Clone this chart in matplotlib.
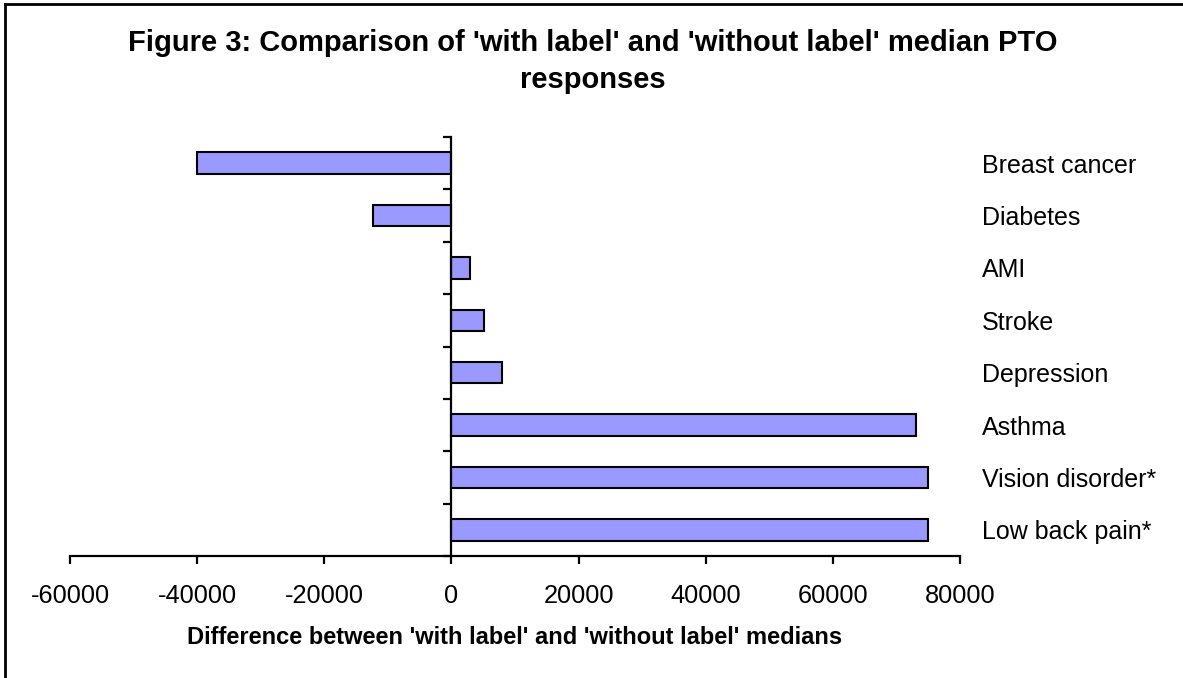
# Figure 3: 'with label' minus 'without label' median PTO responses
import numpy as np
import matplotlib
matplotlib.use('Agg')
import matplotlib.pyplot as plt
from matplotlib.ticker import FixedLocator
from matplotlib.lines import Line2D

plt.rcParams['font.family'] = ['Liberation Sans', 'DejaVu Sans']

# data, top to bottom as in the chart
conditions = ['Breast cancer', 'Diabetes', 'AMI', 'Stroke', 'Depression',
              'Asthma', 'Vision disorder*', 'Low back pain*']
differences = [-40000, -12300, 3000, 5200, 8000, 73000, 75000, 75000]
x_ticks = [-60000, -40000, -20000, 0, 20000, 40000, 60000, 80000]

fig = plt.figure(figsize=(11.83, 6.78), dpi=100)
ax = fig.add_axes([70 / 1183, 1 - 556 / 678, 890 / 1183, 419 / 678])

y = np.arange(len(conditions))
ax.barh(y, differences, height=0.41, color='#9999FF', edgecolor='black',
        linewidth=1.5, zorder=2)

ax.set_xlim(-60000, 80000)
ax.set_ylim(len(conditions) - 0.5, -0.5)
ax.set_xticks(x_ticks)
ax.set_xticklabels([str(t) for t in x_ticks])

# y axis sits at zero, ticks between categories, names on the right
ax.spines['left'].set_position(('data', 0))
ax.spines['top'].set_visible(False)
ax.spines['right'].set_visible(False)
for s in ['left', 'bottom']:
    ax.spines[s].set_linewidth(1.6)
ax.yaxis.set_major_locator(FixedLocator(np.arange(-0.5, len(conditions), 1.0)))
ax.yaxis.set_minor_locator(FixedLocator(y))
ax.yaxis.set_minor_formatter(plt.FixedFormatter(conditions))
ax.tick_params(axis='y', which='major', direction='out', length=6, width=1.6,
               labelleft=False)
ax.tick_params(axis='y', which='minor', left=False, right=False,
               labelleft=False, labelright=True, labelsize=18, pad=14)
ax.tick_params(axis='x', direction='out', length=6, width=1.6,
               labelsize=18.3, pad=14)

ax.set_xlabel("Difference between 'with label' and 'without label' medians",
              fontsize=17, fontweight='bold', labelpad=13)

fig.text(0.501, 1 - 29 / 678,
         "Figure 3: Comparison of 'with label' and 'without label' median PTO\nresponses",
         ha='center', va='top', fontsize=21, fontweight='bold', linespacing=1.42)

# frame (only top and left edges show in the crop)
fig.add_artist(Line2D([5 / 1183, 5 / 1183], [0, 1 - 4 / 678], color='black',
                      linewidth=2, transform=fig.transFigure))
fig.add_artist(Line2D([5 / 1183, 1], [1 - 4 / 678, 1 - 4 / 678], color='black',
                      linewidth=2, transform=fig.transFigure))

fig.savefig('out.png', dpi=100)
